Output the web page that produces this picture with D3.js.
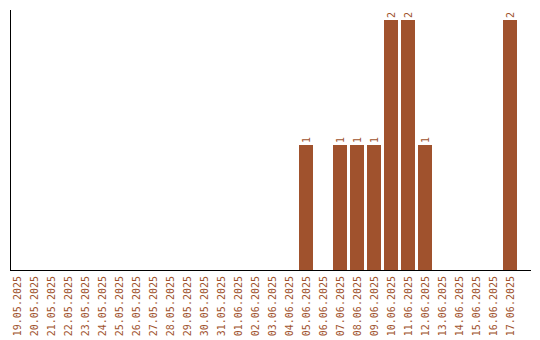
<!DOCTYPE html>
<html>
<head>
<meta charset="utf-8">
<script src="https://cdn.jsdelivr.net/npm/d3@7"></script>
<style>
  body { margin: 0; background: #fff; }
  text { font-family: "DejaVu Sans Mono", monospace; font-size: 10px; fill: #a0522d; }
</style>
</head>
<body>
<div id="chart"></div>
<script>
// Data
const dates = [
  '19.05.2025', '20.05.2025', '21.05.2025', '22.05.2025', '23.05.2025',
  '24.05.2025', '25.05.2025', '26.05.2025', '27.05.2025', '28.05.2025',
  '29.05.2025', '30.05.2025', '31.05.2025', '01.06.2025', '02.06.2025',
  '03.06.2025', '04.06.2025', '05.06.2025', '06.06.2025', '07.06.2025',
  '08.06.2025', '09.06.2025', '10.06.2025', '11.06.2025', '12.06.2025',
  '13.06.2025', '14.06.2025', '15.06.2025', '16.06.2025', '17.06.2025'
];
const counts = [
  0, 0, 0, 0, 0,
  0, 0, 0, 0, 0,
  0, 0, 0, 0, 0,
  0, 0, 1, 0, 1,
  1, 1, 2, 2, 1,
  0, 0, 0, 0, 2
];

const width = 540;
const height = 340;
const barColor = '#a0522d';

const svg = d3.select('#chart').append('svg')
  .attr('width', width)
  .attr('height', height);

const x = d3.scaleBand()
  .domain(dates)
  .range([10, 517])
  .paddingInner(3 / 17)
  .paddingOuter(0);

const y = d3.scaleLinear()
  .domain([0, 2])
  .range([270, 20]);

const rows = dates.map((d, i) => ({date: d, value: counts[i]})).filter(d => d.value > 0);

// Bars
svg.append('g')
  .selectAll('rect')
  .data(rows)
  .join('rect')
    .attr('x', d => x(d.date))
    .attr('y', d => y(d.value))
    .attr('width', x.bandwidth())
    .attr('height', d => y(0) - y(d.value))
    .attr('fill', barColor);

// Value labels
svg.append('g')
  .selectAll('text')
  .data(rows)
  .join('text')
    .attr('transform', d => `translate(${x(d.date) + x.bandwidth() / 2 + 3.5}, ${y(d.value) - 2}) rotate(-90)`)
    .attr('text-anchor', 'start')
    .text(d => d.value);

// Axis lines
svg.append('line')
  .attr('x1', 10.5).attr('x2', 10.5)
  .attr('y1', 10).attr('y2', 270)
  .attr('stroke', '#000');
svg.append('line')
  .attr('x1', 10).attr('x2', 531)
  .attr('y1', 270.5).attr('y2', 270.5)
  .attr('stroke', '#000');

// Date labels
svg.append('g')
  .selectAll('text')
  .data(dates)
  .join('text')
    .attr('transform', d => `translate(${x(d) + x.bandwidth() / 2 + 3.5}, 276) rotate(-90)`)
    .attr('text-anchor', 'end')
    .text(d => d);
</script>
</body>
</html>
